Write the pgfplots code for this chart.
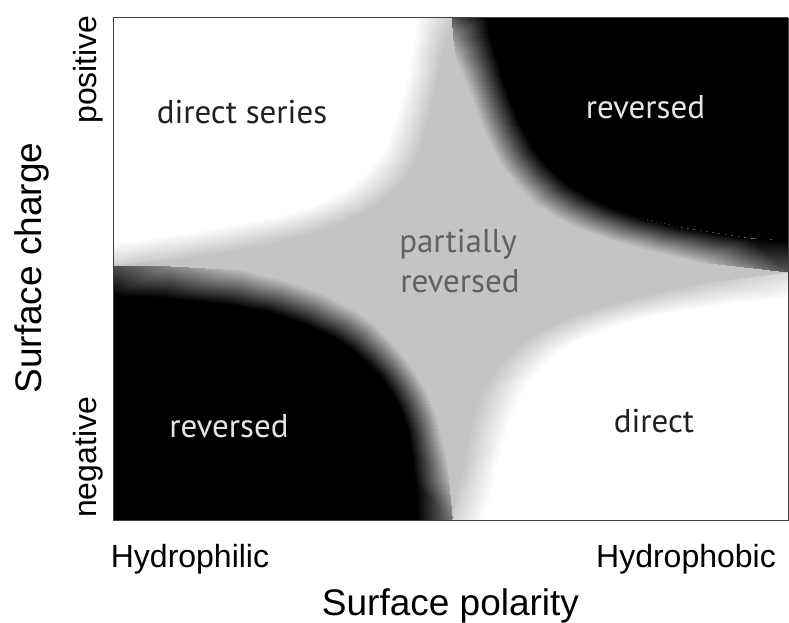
\documentclass[border=0pt]{standalone}
\usepackage{pgfplots}
\pgfplotsset{compat=1.18}
\usepackage{fontspec}
\setmainfont{Liberation Sans}
\newfontfamily\innerfont{PT Sans}
\definecolor{bg}{gray}{0.77}
\definecolor{dtext}{gray}{0.13}
\definecolor{ltext}{gray}{0.9}
\definecolor{mtext}{gray}{0.38}
\begin{document}
\begin{tikzpicture}[x=1pt,y=1pt]
\begin{axis}[name=ax, view={0}{90}, scale only axis, width=675pt, height=503pt,
  xmin=113, xmax=788, ymin=17.5, ymax=520.5, zmin=0, zmax=1, y dir=reverse,
  xtick=\empty, ytick=\empty, ztick=\empty,
  colormap={bwg}{gray(0cm)=(0); gray(1cm)=(0.77); gray(2cm)=(1)},
  point meta min=0, point meta max=1,
  axis line style={line width=1pt, black!75}]
% grey background (partially reversed)
\addplot3[fill=bg, draw=none] coordinates {(113,17.5,0.5) (788,17.5,0.5) (788,520.5,0.5) (113,520.5,0.5)} -- cycle;
% cores
\addplot3[fill=white, draw=white, line width=1.5pt] coordinates {(113,17.5,1) (415,17.5,1) (413,40,1) (410,60,1) (406,80,1) (400,100,1) (392,125,1) (383,150,1) (370,167,1) (353,183,1) (334,195,1) (307,207,1) (272,217,1) (217,227,1) (177,234,1) (133,240,1) (113,242,1)} -- cycle;
\addplot3[fill=black, draw=black, line width=1.5pt] coordinates {(788,17.5,0) (487,17.5,0) (490,36.5,0) (496,56.5,0) (502,76.5,0) (510,99.5,0) (519,121.5,0) (534,149.5,0) (548,166.5,0) (567,183.5,0) (588,196.5,0) (612,207.5,0) (642,217.5,0) (680,226.5,0) (717,232.5,0) (750,237.5,0) (788,240,0)} -- cycle;
\addplot3[fill=black, draw=black, line width=1.5pt] coordinates {(113,520.5,0) (113,295,0) (167,298,0) (233,305,0) (270,312,0) (300,322,0) (333,337,0) (350,348,0) (367,363,0) (380,376,0) (390,390,0) (400,408,0) (407,427,0) (411,450,0) (415,483,0) (417,520.5,0)} -- cycle;
\addplot3[fill=white, draw=white, line width=1.5pt] coordinates {(788,520.5,1) (483,520.5,1) (491,496.5,1) (497,467,1) (504,441.5,1) (511,417,1) (521,396.5,1) (528,383,1) (543,366.5,1) (562,350,1) (582,338.5,1) (604,329.5,1) (628,321.5,1) (662,313.5,1) (697,307.5,1) (737,302.5,1) (788,298,1)} -- cycle;
% gradient bands (outer row: towards grey; inner row: full tone)
\addplot3[surf, shader=interp, mesh/rows=2, mesh/cols=16] coordinates {
(452,17.5,0.56) (446,40,0.5) (441,60,0.5) (437,80,0.5) (433,100,0.5) (427,125,0.5) (420,150,0.5) (411,168,0.5) (400,185,0.5) (385,198,0.5) (367,210,0.5) (343,222,0.5) (310,234,0.5) (270,244,0.5) (215,254,0.5) (113,265,0.6)
(415,17.5,1) (413,40,1) (410,60,1) (406,80,1) (400,100,1) (392,125,1) (383,150,1) (370,167,1) (353,183,1) (334,195,1) (307,207,1) (272,217,1) (217,227,1) (177,234,1) (133,240,1) (113,242,1)
};
\addplot3[surf, shader=interp, mesh/rows=2, mesh/cols=16] coordinates {
(452,17.5,0.22) (453,36.5,0.38) (456,56.5,0.47) (463,77,0.5) (472,101,0.5) (481,125,0.5) (493,152,0.5) (505,171,0.5) (520,189,0.5) (535,204,0.5) (553,216,0.5) (577,228,0.5) (610,240,0.5) (650,251,0.5) (700,262,0.48) (788,271.5,0.22)
(487,17.5,0) (490,36.5,0) (496,56.5,0) (502,76.5,0) (510,99.5,0) (519,121.5,0) (534,149.5,0) (548,166.5,0) (567,183.5,0) (588,196.5,0) (612,207.5,0) (642,217.5,0) (680,226.5,0) (717,232.5,0) (750,237.5,0) (788,240,0)
};
\addplot3[surf, shader=interp, mesh/rows=2, mesh/cols=15] coordinates {
(113,265,0.2) (170,266,0.35) (240,270,0.48) (285,280,0.5) (320,292,0.5) (355,310,0.5) (372,322,0.5) (388,338,0.5) (402,354,0.5) (415,372,0.5) (427,392,0.5) (436,415,0.5) (443,442,0.5) (448,478,0.45) (452,520.5,0.3)
(113,295,0) (167,298,0) (233,305,0) (270,312,0) (300,322,0) (333,337,0) (350,348,0) (367,363,0) (380,376,0) (390,390,0) (400,408,0) (407,427,0) (411,450,0) (415,483,0) (417,520.5,0)
};
\addplot3[surf, shader=interp, mesh/rows=2, mesh/cols=16] coordinates {
(452,520.5,0.62) (457,496,0.55) (462,467,0.5) (467,441,0.5) (473,416,0.5) (480,394,0.5) (487,381,0.5) (500,362,0.5) (518,345,0.5) (537,332,0.5) (560,321,0.5) (585,311,0.5) (620,301,0.5) (660,291,0.5) (710,282,0.55) (788,271.5,0.68)
(483,520.5,1) (491,496.5,1) (497,467,1) (504,441.5,1) (511,417,1) (521,396.5,1) (528,383,1) (543,366.5,1) (562,350,1) (582,338.5,1) (604,329.5,1) (628,321.5,1) (662,313.5,1) (697,307.5,1) (737,302.5,1) (788,298,1)
};
\coordinate (O) at (axis cs:113,520.5,0);
\end{axis}
\begin{scope}[every node/.style={inner sep=0pt, anchor=base}]
\node[font=\innerfont\fontsize{33}{33}\selectfont, text=dtext] at ([shift={(129,396.5)}]O) {direct series};
\node[font=\innerfont\fontsize{33}{33}\selectfont, text=ltext] at ([shift={(532.5,401.5)}]O) {reversed};
\node[font=\innerfont\fontsize{33}{33}\selectfont, text=mtext] at ([shift={(345,267.5)}]O) {partially};
\node[font=\innerfont\fontsize{33}{33}\selectfont, text=mtext] at ([shift={(347,227.8)}]O) {reversed};
\node[font=\innerfont\fontsize{33}{33}\selectfont, text=ltext] at ([shift={(116,83.2)}]O) {reversed};
\node[font=\innerfont\fontsize{33}{33}\selectfont, text=dtext] at ([shift={(541,87.8)}]O) {direct};
\node[font=\fontsize{32}{32}\selectfont] at ([shift={(77,-47.5)}]O) {Hydrophilic};
\node[font=\fontsize{32}{32}\selectfont] at ([shift={(573,-47.5)}]O) {Hydrophobic};
\node[font=\fontsize{37}{37}\selectfont] at ([shift={(337.5,-94.5)}]O) {Surface polarity};
\node[font=\fontsize{37}{37}\selectfont, rotate=90] at ([shift={(-71,252.5)}]O) {Surface charge};
\node[font=\fontsize{32}{32}\selectfont, rotate=90] at ([shift={(-16,451)}]O) {positive};
\node[font=\fontsize{32}{32}\selectfont, rotate=90] at ([shift={(-16,63)}]O) {negative};
\end{scope}
\pgfresetboundingbox
\path ([shift={(-113,-102.5)}]O) rectangle ++(789,623);
\end{tikzpicture}
\end{document}
